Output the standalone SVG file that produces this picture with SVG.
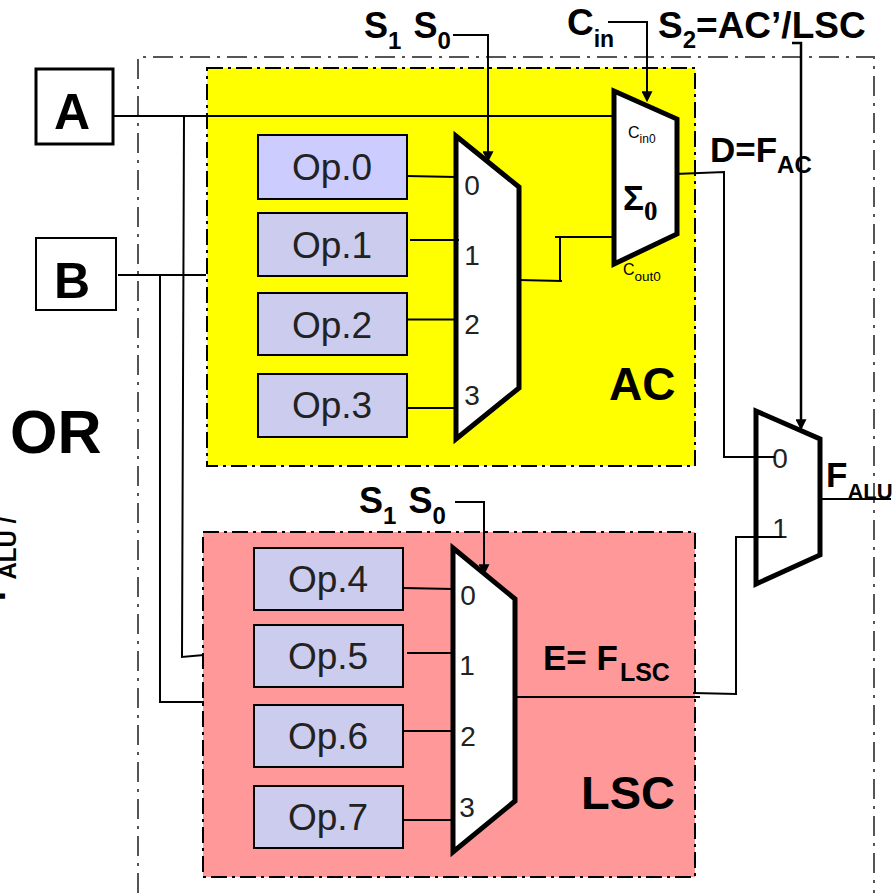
<svg xmlns="http://www.w3.org/2000/svg" width="893" height="893" viewBox="0 0 893 893">
<style>
text{font-family:"Liberation Sans",Arial,sans-serif;fill:#000}
.b{font-weight:bold}
.region{stroke:#000;stroke-width:2;stroke-dasharray:16 5 3 5}
.op{fill:#ccccee;stroke:#000;stroke-width:2}
.opt{font-size:37px;fill:#222;text-anchor:middle}
.mux{fill:#fff;stroke:#000;stroke-width:5}
.pin{font-size:28px;fill:#222;text-anchor:middle}
.w{fill:none;stroke:#000;stroke-width:2}
.w3{fill:none;stroke:#000;stroke-width:2.5}
.big{font-size:36px;font-weight:bold}
.sub{font-size:24px;font-weight:bold}
</style>
<defs>
<marker id="arr" markerUnits="userSpaceOnUse" markerWidth="11" markerHeight="11" refX="5" refY="8" orient="0" viewBox="0 0 10 10"><path d="M0 0H10L5 10Z" fill="#000"/></marker>
</defs>
<g id="alu-boundary"><path d="M138 893V57H874V893" fill="none" stroke="#555" stroke-width="2" stroke-dasharray="20 7 3 7"/></g>
<g id="ac-block"><rect class="region" x="207" y="68" width="488" height="398" fill="#ffff00"/><text class="b" x="609" y="400" font-size="46">AC</text></g>
<g id="lsc-block"><rect class="region" x="203" y="532" width="492" height="345" fill="#ff9999"/><text class="b" x="581" y="809" font-size="47">LSC</text></g>
<g id="input-a"><rect x="36" y="69" width="77" height="75" fill="#fff" stroke="#000" stroke-width="3"/><text class="b" x="72" y="129" font-size="50" text-anchor="middle">A</text></g>
<g id="input-b"><rect x="36" y="238" width="80" height="72" fill="#fff" stroke="#000" stroke-width="2"/><text class="b" x="72" y="298" font-size="50" text-anchor="middle">B</text></g>
<g id="op0"><rect class="op" x="258" y="135" width="149" height="64" style="fill:#ccccff"/><text class="opt" x="332" y="180">Op.0</text></g>
<g id="op1"><rect class="op" x="258" y="213" width="149" height="63"/><text class="opt" x="332" y="258">Op.1</text></g>
<g id="op2"><rect class="op" x="258" y="293" width="149" height="62"/><text class="opt" x="332" y="338">Op.2</text></g>
<g id="op3"><rect class="op" x="258" y="374" width="149" height="63"/><text class="opt" x="332" y="418">Op.3</text></g>
<g id="op4"><rect class="op" x="254" y="548" width="149" height="62"/><text class="opt" x="328" y="592">Op.4</text></g>
<g id="op5"><rect class="op" x="254" y="625" width="149" height="62"/><text class="opt" x="328" y="669">Op.5</text></g>
<g id="op6"><rect class="op" x="254" y="705" width="149" height="62"/><text class="opt" x="328" y="749">Op.6</text></g>
<g id="op7"><rect class="op" x="254" y="786" width="149" height="62"/><text class="opt" x="328" y="830">Op.7</text></g>
<g id="mux-ac"><path class="mux" d="M456 136L519 187V388L456 439Z"/>
<text class="pin" x="472" y="195">0</text><text class="pin" x="472" y="265">1</text><text class="pin" x="472" y="334">2</text><text class="pin" x="472" y="405">3</text></g>
<g id="mux-lsc"><path class="mux" d="M453 548L515 599V801L453 852Z"/>
<text class="pin" x="468" y="605">0</text><text class="pin" x="467" y="675">1</text><text class="pin" x="468" y="746">2</text><text class="pin" x="467" y="817">3</text></g>
<g id="adder"><path class="mux" d="M614 91L677 119V234L614 264Z"/>
<text x="628" y="138" font-size="16" fill="#222">C<tspan dy="5" font-size="12">in0</tspan></text>
<text x="623" y="210" font-size="35" font-weight="bold">Σ<tspan dy="10" font-size="27" style="font-family:'Liberation Serif',serif">0</tspan></text>
<text x="623" y="275" font-size="16" fill="#222">C<tspan dy="6" font-size="13.5">out0</tspan></text></g>
<g id="mux-out"><path class="mux" d="M756 411L820 439V555L756 584Z"/>
<text class="pin" x="780" y="468">0</text><text class="pin" x="780" y="538">1</text></g>
<g id="connectors">
<path class="w" d="M113 116H613"/>
<path class="w" d="M184 116L182 657L204 655"/>
<path class="w" d="M118 275H206"/>
<path class="w" d="M160 275V702H204"/>
<path class="w" d="M407 176L456 177"/>
<path class="w" d="M410 240H459"/>
<path class="w" d="M407 319.500H456"/>
<path class="w" d="M407 408H456"/>
<path class="w" d="M403 588L453 589"/>
<path class="w" d="M407 653H455"/>
<path class="w" d="M403 731H453"/>
<path class="w" d="M403 820H453"/>
<path class="w" d="M519 280L562 281M560 281V237M555 237H613"/>
<path class="w" d="M675 174L724 172V457H775"/>
<path class="w" d="M516 697H700M693 693L736 694V537H782"/>
<path class="w" d="M820 499H891"/>
<path class="w" d="M453 35H488V160" marker-end="url(#arr)"/>
<path class="w" d="M608 22H647V100" marker-end="url(#arr)"/>
<path class="w3" d="M792 43H801V428" marker-end="url(#arr)"/>
<path class="w" d="M455 502H484V573" marker-end="url(#arr)"/>
</g>
<g id="labels">
<text x="364" y="38" class="big">S<tspan dy="11" class="sub">1</tspan><tspan dy="-11" dx="12">S</tspan><tspan dy="11" class="sub">0</tspan></text>
<text x="359" y="513" class="big">S<tspan dy="11" class="sub">1</tspan><tspan dy="-11" dx="12">S</tspan><tspan dy="11" class="sub">0</tspan></text>
<text x="567" y="35" font-size="37" class="b">C<tspan dy="12" font-size="23">in</tspan></text>
<text x="658" y="38" font-size="37" class="b">S<tspan dy="10" class="sub">2</tspan><tspan dy="-10">=AC’/LSC</tspan></text>
<text x="710" y="162" font-size="35" class="b">D=F<tspan dy="11" class="sub">AC</tspan></text>
<text x="826" y="487" font-size="35" class="b">F<tspan dy="12" font-size="22">ALU</tspan></text>
<text x="543" y="670" font-size="35" class="b">E= F<tspan dy="11" dx="2" font-size="25">LSC</tspan></text>
<text class="b" x="10" y="453" font-size="61">OR</text>
<text class="b" font-size="35" transform="translate(5 601) rotate(-90)">F<tspan dy="11" class="sub">ALU /</tspan></text>
</g>
</svg>
